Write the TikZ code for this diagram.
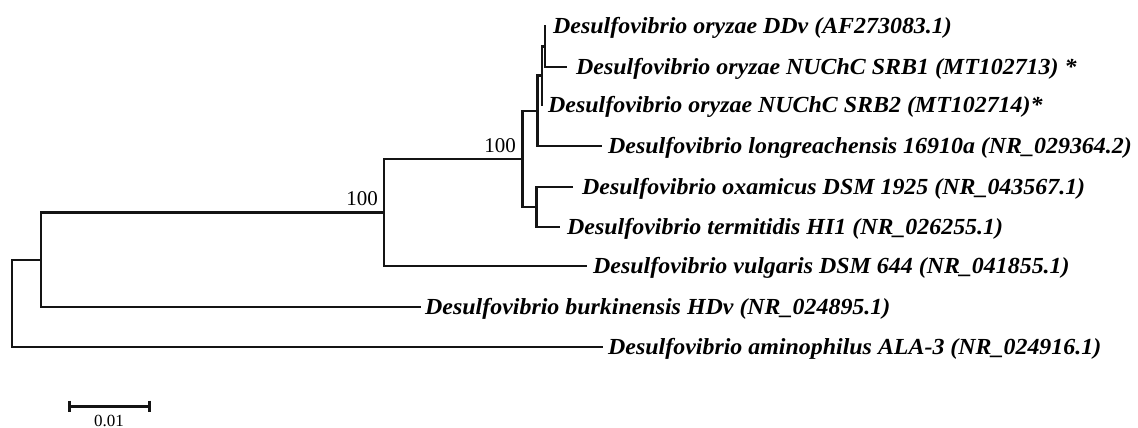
\documentclass[tikz,border=0pt]{standalone}
\usepackage{fontspec}
\setmainfont{Liberation Serif}
\newcommand\taxon[1]{\scalebox{1.04}[1]{#1}}
\tikzset{
  branch/.style={line width=2.5pt, line join=miter, draw=black!92},
  leaf/.style={anchor=base west, inner sep=0pt,
    font=\fontsize{23}{27}\selectfont\bfseries\itshape},
  boot/.style={anchor=base east, inner sep=0pt, font=\fontsize{21}{25}\selectfont},
  scalebar/.style={line width=3pt, draw=black!92},
}
\begin{document}
\begin{tikzpicture}[x=1pt, y=-1pt]
\useasboundingbox (0,0) rectangle (1138,428);

% tips of the terminal branches
\coordinate (tDDv) at (546,26);
\coordinate (tSRB1) at (567,67);
\coordinate (tSRB2) at (543,105);
\coordinate (tLon) at (602,146);
\coordinate (tOxa) at (573,187);
\coordinate (tTer) at (560,227);
\coordinate (tVul) at (587,266);
\coordinate (tBur) at (421,307);
\coordinate (tAmi) at (603,347);

% internal nodes (x = depth, y = midpoint of the children)
\coordinate (nA) at (545,46.5);
\coordinate (nB) at (542,75.75);
\coordinate (nC) at (537.5,111);
\coordinate (nE) at (536.5,207);
\coordinate (nD) at (522.5,159);
\coordinate (nF) at (384,212.5);
\coordinate (nG) at (41,260);
\coordinate (nR) at (12,303.5);

% branches
\draw[branch] (tDDv) -| (nA) |- (tSRB1);
\draw[branch] (nA) -| (nB) |- (tSRB2);
\draw[branch] (nB) -| (nC) |- (tLon);
\draw[branch] (tOxa) -| (nE) |- (tTer);
\draw[branch] (nC) -| (nD) |- (nE);
\draw[branch] (nD) -| (nF) |- (tVul);
\draw[branch] (nF) -| (nG) |- (tBur);
\draw[branch] (nG) -| (nR) |- (tAmi);

% taxon labels
\node[leaf] (lDDv) at ([xshift=7pt,yshift=-7.5pt]tDDv) {\taxon{Desulfovibrio oryzae DDv (AF273083.1)}};
\node[leaf] (lSRB1) at ([xshift=9pt,yshift=-7.5pt]tSRB1) {\taxon{Desulfovibrio oryzae NUChC SRB1 (MT102713) *}};
\node[leaf] (lSRB2) at ([xshift=5pt,yshift=-7.5pt]tSRB2) {\taxon{Desulfovibrio oryzae NUChC SRB2 (MT102714)*}};
\node[leaf] (lLon) at ([xshift=6pt,yshift=-7.5pt]tLon) {\taxon{Desulfovibrio longreachensis 16910a (NR\_029364.2)}};
\node[leaf] (lOxa) at ([xshift=9pt,yshift=-7.5pt]tOxa) {\taxon{Desulfovibrio oxamicus DSM 1925 (NR\_043567.1)}};
\node[leaf] (lTer) at ([xshift=7pt,yshift=-7.5pt]tTer) {\taxon{Desulfovibrio termitidis HI1 (NR\_026255.1)}};
\node[leaf] (lVul) at ([xshift=6pt,yshift=-7.5pt]tVul) {\taxon{Desulfovibrio vulgaris DSM 644 (NR\_041855.1)}};
\node[leaf] (lBur) at ([xshift=4pt,yshift=-7.5pt]tBur) {\taxon{Desulfovibrio burkinensis HDv (NR\_024895.1)}};
\node[leaf] (lAmi) at ([xshift=5pt,yshift=-7.5pt]tAmi) {\taxon{Desulfovibrio aminophilus ALA-3 (NR\_024916.1)}};

% bootstrap values
\node[boot] (bD) at ([xshift=-6.5pt,yshift=7pt]nD) {100};
\node[boot] (bF) at ([xshift=-6pt,yshift=7.5pt]nF) {100};

% scale bar
\coordinate (s0) at (69,406);
\coordinate (s1) at (149,406);
\draw[scalebar] (s0) -- (s1);
\draw[scalebar] ([yshift=5.5pt]s0) -- ([yshift=-5.5pt]s0);
\draw[scalebar] ([yshift=5.5pt]s1) -- ([yshift=-5.5pt]s1);
\node[font=\fontsize{17}{19}\selectfont, inner sep=0pt, anchor=base] (sLab) at (109,426) {0.01};
\end{tikzpicture}
\end{document}
